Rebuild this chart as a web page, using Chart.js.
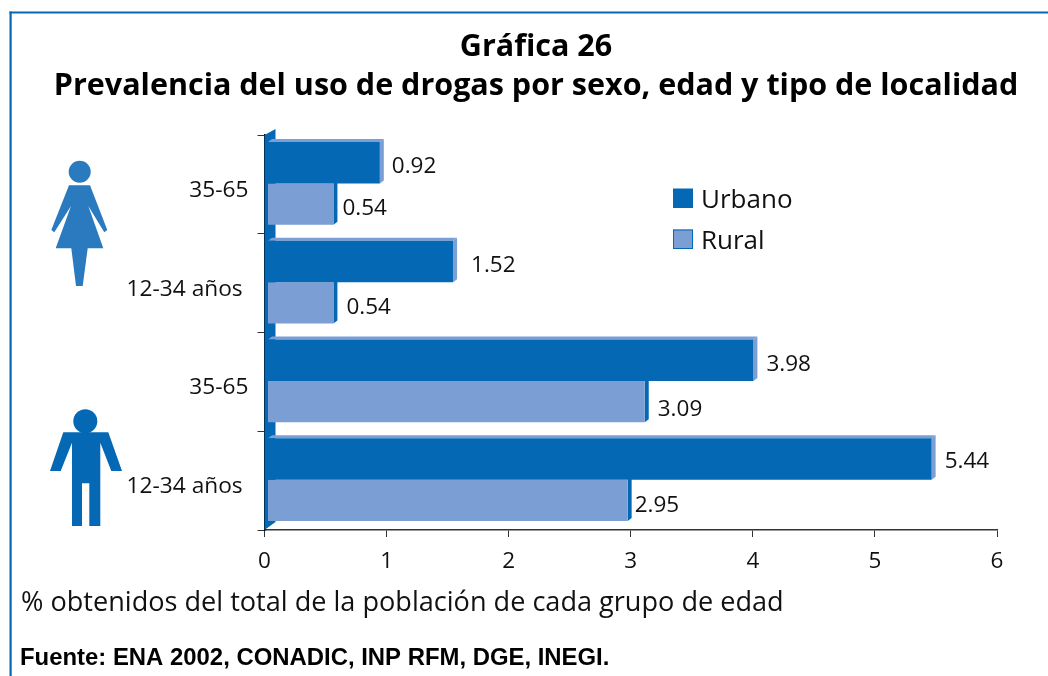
<!DOCTYPE html>
<html><head><meta charset="utf-8">
<style>html,body{margin:0;padding:0;background:#fff}#w{width:1048px;height:676px}</style>
<script src="https://cdn.jsdelivr.net/npm/chart.js@4"></script></head>
<body><div id="w"><canvas id="c" width="1048" height="676"></canvas></div>
<script>
const categories = ['35-65', '12-34 años ', '35-65', '12-34 años '];
const urbano = [0.92, 1.52, 3.98, 5.44];
const rural = [0.54, 0.54, 3.09, 2.95];
const xTicks = [0, 1, 2, 3, 4, 5, 6];
const titleLines = ['Gráfica 26', 'Prevalencia del uso de drogas por sexo, edad y tipo de localidad'];
const noteText = '% obtenidos del total de la población de cada grupo de edad';
const sourceText = 'Fuente: ENA 2002, CONADIC, INP RFM, DGE, INEGI.';

const BLUE = '#0468b4', LIGHT = '#7b9fd4', INK = '#111';
const labelNudge = [[[15,3],[12,3]],[[21,3],[16,4]],[[16,3],[16,7]],[[16,2],[10,4]]];
const LABEL_FONT = '22.5px "Open Sans"';

function poly(ctx, pts, color){
  ctx.fillStyle = color; ctx.beginPath();
  pts.forEach((p,i)=> i ? ctx.lineTo(p[0],p[1]) : ctx.moveTo(p[0],p[1]));
  ctx.closePath(); ctx.fill();
}
const DX = 4, DY = 3;
const deco = {
  id:'deco',
  afterLayout(chart){
    // let the title use the full frame width, centred on the frame
    chart.titleBlock.left = 24; chart.titleBlock.right = 1048;
  },
  beforeDraw(chart){
    const ctx = chart.ctx;
    ctx.save();
    ctx.fillStyle = BLUE; ctx.fillRect(9.5,11.5,2.2,665); ctx.fillRect(9.5,11.5,1039,2);
    // female
    ctx.fillStyle = '#2a7abf';
    ctx.beginPath(); ctx.arc(79.7,171.7,11,0,Math.PI*2); ctx.fill();
    poly(ctx,[[69,185.3],[90,185.3],[107.3,230],[104.3,232.3],[88.3,206],[103.3,248.3],[87.7,248.3],[82.7,286],[76,286],[71.3,248.3],[55.7,248.3],[71,206],[54.3,232.3],[51.3,230]],'#2a7abf');
    // male
    ctx.fillStyle = BLUE;
    ctx.beginPath(); ctx.arc(85.3,421.3,12,0,Math.PI*2); ctx.fill();
    poly(ctx,[[63.3,432.3],[108.3,432.3],[122,471],[111.3,471],[100.3,442.7],[100.3,526],[89.3,526],[89.3,483.3],[82,483.3],[82,526],[72,526],[72,442.7],[60.7,471],[50,471]],BLUE);
    ctx.restore();
  },
  beforeDatasetsDraw(chart){
    const ctx = chart.ctx, a = chart.chartArea;
    // back wall
    poly(ctx,[[a.left,a.top],[a.left+11,a.top-6],[a.left+11,a.bottom-8],[a.left,a.bottom]],BLUE);
    ctx.save();
    ctx.translate(3,-1);
    [1,0].forEach(d=>{
      const meta = chart.getDatasetMeta(d);
      meta.data.forEach(b=>{
        const t = b.y-b.height/2, bt = b.y+b.height/2, l = b.base;
        const other = d===0 ? LIGHT : BLUE;
        poly(ctx,[[b.x,t],[b.x+DX,t-DY],[b.x+DX,bt-DY],[b.x,bt]],other);
        if(d===0) poly(ctx,[[l,t],[l+DX,t-DY],[b.x+DX,t-DY],[b.x,t]],LIGHT);
      });
    });
  },
  afterDatasetsDraw(chart){
    const ctx = chart.ctx;
    ctx.restore();
    ctx.save();
    ctx.fillStyle = INK; ctx.textAlign='left'; ctx.textBaseline='middle'; ctx.font = LABEL_FONT;
    chart.data.datasets.forEach((ds,d)=>{
      chart.getDatasetMeta(d).data.forEach((b,i)=>{
        const n = labelNudge[i][d];
        ctx.fillText(ds.data[i].toFixed(2), b.x+n[0], b.y+n[1]);
      });
    });
    // legend
    ctx.font = '26px "Open Sans"';
    chart.data.datasets.forEach((ds,d)=>{
      const y = 188.5+d*41;
      ctx.fillStyle = ds.backgroundColor; ctx.fillRect(673,y,20,19.5);
      if(d===1){ctx.strokeStyle=BLUE;ctx.lineWidth=1;ctx.strokeRect(673.5,y+.5,19,18.5);}
      ctx.fillStyle = INK; ctx.fillText(ds.label,701,y+12);
    });
    // notes
    ctx.font = '27.1px "Open Sans"'; ctx.fillStyle = INK;
    ctx.fillText(noteText,21,603);
    ctx.font = 'bold 23.9px "Liberation Sans"'; ctx.fillStyle = '#000';
    ctx.fillText(sourceText,20,658);
    ctx.restore();
  }
};

new Chart(document.getElementById('c'),{
  type:'bar',
  plugins:[deco],
  data:{labels:categories,datasets:[
    {label:'Urbano',data:urbano,backgroundColor:BLUE,categoryPercentage:0.84,barPercentage:1,borderWidth:0,clip:false},
    {label:'Rural',data:rural,backgroundColor:LIGHT,categoryPercentage:0.84,barPercentage:1,borderWidth:0,clip:false}
  ]},
  options:{
    indexAxis:'y',responsive:false,animation:false,
    layout:{padding:{left:75,right:51,top:0,bottom:0}},
    plugins:{
      legend:{display:false},tooltip:{enabled:false},
      title:{display:true,text:titleLines,color:'#000',
        font:{family:'"Open Sans"',size:30.5,weight:'bold',lineHeight:'39px'},
        padding:{top:27.5,bottom:29.5}}
    },
    scales:{
      x:{min:xTicks[0],max:xTicks[xTicks.length-1],
        afterFit(s){s.height=146;},
        afterBuildTicks(s){s.ticks=xTicks.map(v=>({value:v}));},
        border:{color:'#333',width:1.5},
        grid:{drawOnChartArea:false,color:'#333',tickLength:7},
        ticks:{color:INK,font:{family:'"Open Sans"',size:22.5},padding:11,maxRotation:0}},
      y:{afterFit(s){s.width=189.5;},
        border:{color:'#000',width:1.5},
        grid:{offset:true,drawOnChartArea:false,color:'#333',tickLength:7},
        ticks:{color:INK,font:{family:'"Open Sans"',size:22.7},padding:9,labelOffset:6}}
    }
  }
});
</script></body></html>
